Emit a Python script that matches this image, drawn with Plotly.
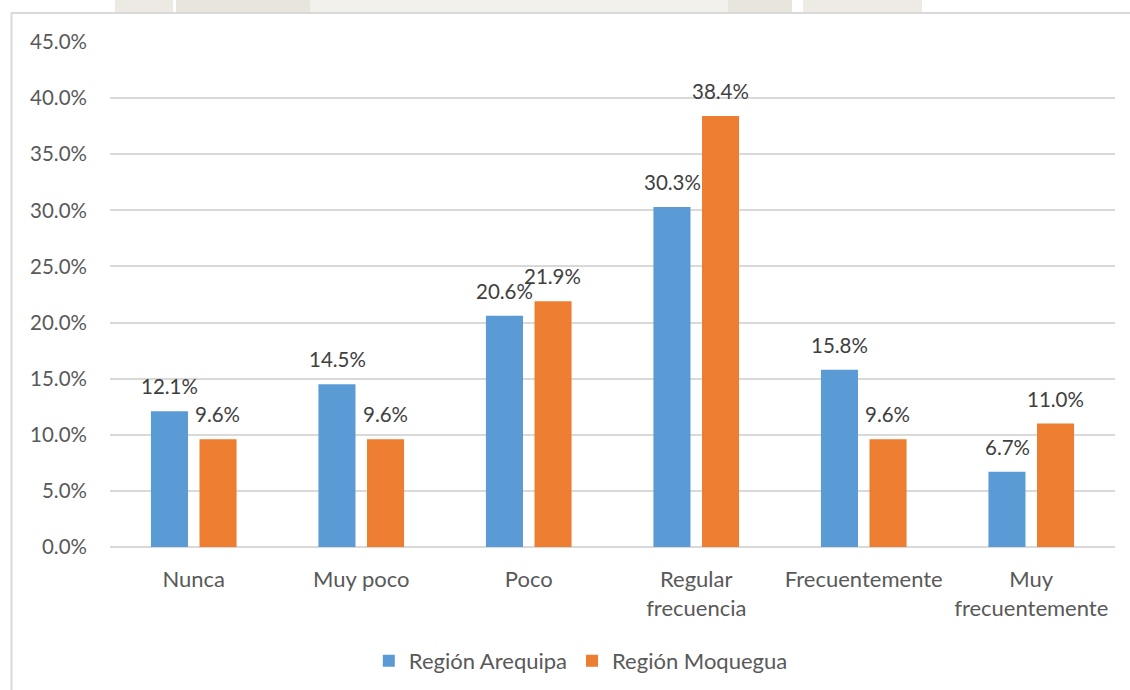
import plotly.graph_objects as go

categorias = ["Nunca", "Muy poco", "Poco", "Regular<br>frecuencia", "Frecuentemente", "Muy<br>frecuentemente"]
arequipa = [0.121, 0.145, 0.206, 0.303, 0.158, 0.067]
moquegua = [0.096, 0.096, 0.219, 0.384, 0.096, 0.110]
series = [("Región Arequipa", arequipa, "#5B9BD5"), ("Región Moquegua", moquegua, "#ED7D31")]

FONT = "Lato"
NUM_SIZE = 20.5
TXT_SIZE = 22

fig = go.Figure()
for nombre, valores, color in series:
    fig.add_trace(go.Bar(
        name=nombre, x=categorias, y=valores,
        marker=dict(color=color, line=dict(width=0)),
    ))

# value labels above each bar
for i, (nombre, valores, color) in enumerate(series):
    shift = -24 if i == 0 else 24
    for cat, v in zip(categorias, valores):
        fig.add_annotation(
            x=cat, y=v, text=f"{v*100:.1f}%", showarrow=False,
            xshift=shift, yshift=11, yanchor="bottom",
            font=dict(family=FONT, size=NUM_SIZE, color="#404040"),
        )

# faint background strip above the chart frame
for x0, x1, c in [(115, 173, "#ECEAE2"), (176, 310, "#E8E6DC"), (310, 728, "#F2F1EC"),
                  (728, 792, "#E8E6DC"), (803, 922, "#EDEBE3")]:
    fig.add_shape(type="rect", xref="paper", yref="paper",
                  x0=(x0 - 110) / 1005, x1=(x1 - 110) / 1005,
                  y0=1 + 29 / 505, y1=1 + 42 / 505,
                  fillcolor=c, line=dict(width=0), layer="below")

# chart frame
fig.add_shape(type="rect", xref="paper", yref="paper",
              x0=(11.5 - 110) / 1005, x1=(1140 - 110) / 1005,
              y0=-(700 - 547) / 505, y1=1 + (42 - 13) / 505,
              line=dict(color="#D9D9D9", width=2), fillcolor="rgba(0,0,0,0)")

fig.update_layout(
    width=1130, height=690,
    margin=dict(l=110, r=15, t=42, b=143),
    paper_bgcolor="white", plot_bgcolor="white",
    barmode="group", bargap=0.42, bargroupgap=0.237,
    font=dict(family=FONT, size=TXT_SIZE, color="#595959"),
    showlegend=True,
    legend=dict(orientation="h", xref="container", yref="container",
                x=0.514, y=0.042, xanchor="center", yanchor="middle",
                font=dict(family=FONT, size=TXT_SIZE, color="#595959"),
                itemwidth=30, traceorder="normal"),
)
fig.update_yaxes(range=[0, 0.45], dtick=0.05, tickformat=".1%",
                 showgrid=True, gridcolor="#D9D9D9", gridwidth=1.5,
                 zeroline=True, zerolinecolor="#D9D9D9", zerolinewidth=1.5,
                 showline=False, ticks="", ticklabelstandoff=22,
                 tickfont=dict(family=FONT, size=NUM_SIZE, color="#595959"))
fig.update_xaxes(showgrid=False, showline=False, ticks="",
                 ticklabelstandoff=17,
                 tickfont=dict(family=FONT, size=TXT_SIZE, color="#595959"))

fig.write_html("out.html")
